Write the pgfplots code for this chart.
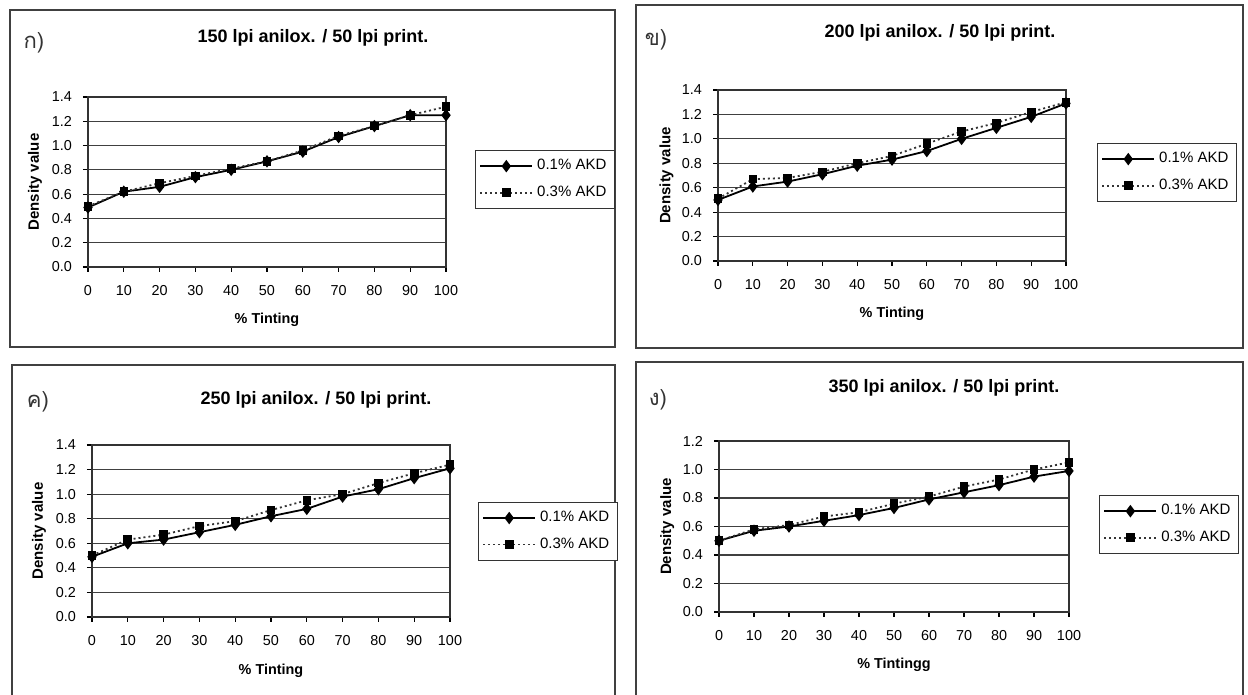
\documentclass[border=0pt]{standalone}
\usepackage{fontspec}
\setmainfont{Liberation Sans}
\newfontfamily\thaifont[Script=Thai]{Loma}
\usepackage{pgfplots}
\usepackage{pgfplotstable}
\pgfplotsset{compat=1.18}

% Density value vs % tinting, columns: tint, 0.1% AKD, 0.3% AKD
\pgfplotstableread{
x a b
0 0.49 0.50
10 0.62 0.62
20 0.66 0.69
30 0.74 0.75
40 0.80 0.81
50 0.87 0.87
60 0.95 0.96
70 1.07 1.08
80 1.16 1.16
90 1.25 1.25
100 1.25 1.32
}\tblA
\pgfplotstableread{
x a b
0 0.50 0.51
10 0.61 0.67
20 0.65 0.68
30 0.71 0.73
40 0.78 0.80
50 0.83 0.86
60 0.90 0.96
70 1.00 1.06
80 1.09 1.13
90 1.18 1.22
100 1.29 1.30
}\tblB
\pgfplotstableread{
x a b
0 0.49 0.50
10 0.60 0.63
20 0.63 0.67
30 0.69 0.74
40 0.75 0.78
50 0.82 0.87
60 0.88 0.95
70 0.98 1.00
80 1.04 1.09
90 1.13 1.17
100 1.21 1.24
}\tblC
\pgfplotstableread{
x a b
0 0.50 0.50
10 0.57 0.58
20 0.60 0.61
30 0.64 0.67
40 0.68 0.70
50 0.73 0.76
60 0.79 0.81
70 0.84 0.88
80 0.89 0.93
90 0.95 1.00
100 0.99 1.05
}\tblD

\pgfplotsset{
  densitypanel/.style={
    scale only axis,
    xmin=0, xmax=100, ymin=0,
    xtick={0,10,...,100},
    ymajorgrids,
    grid style={line width=0.6pt, draw=black!75},
    axis line style={line width=0.7pt, draw=black!80},
    tick style={draw=black, line width=0.6pt},
    tick align=outside, major tick length=2.5pt,
    tick pos=left,
    /pgf/number format/assume math mode=true,
    yticklabel style={/pgf/number format/fixed, /pgf/number format/fixed zerofill,
      /pgf/number format/precision=1, xshift=-2pt},
    xticklabel style={yshift=-3pt},
    tick label style={font=\fontsize{7.2}{8.5}\selectfont},
    ylabel={Density value},
    ylabel style={font=\bfseries\fontsize{7.5}{9}\selectfont, at={(axis description cs:-0.148,0.5)}, anchor=center},
    xlabel style={font=\bfseries\fontsize{7.2}{9}\selectfont, at={(axis description cs:0.5,-0.31)}, anchor=center},
    legend style={draw=black!80, font=\fontsize{7.5}{9}\selectfont,
      inner xsep=2pt, inner ysep=2.5pt, row sep=2.5pt, anchor=north west,
      cells={anchor=west}},
    legend image code/.code={%
      \draw[mark repeat=2, mark phase=2] plot coordinates {(0pt,0pt) (13pt,0pt) (26pt,0pt)};},
  },
  akdlow/.style={black, line width=0.9pt, mark=diamond*, mark size=2.4pt, mark options={solid, fill=black}},
  akdhigh/.style={black!80, line width=0.9pt, dash pattern=on 1pt off 1.5pt, mark=square*, mark size=1.7pt, mark options={solid, fill=black, draw=black}},
}

\begin{document}
\begin{tikzpicture}
\useasboundingbox (0pt,0pt) rectangle (624pt,347.5pt);
\clip (0pt,0pt) rectangle (624pt,347.5pt);
\fill[white] (0pt,0pt) rectangle (624pt,347.5pt);

% panel frames
\draw[line width=0.8pt, black!75] (5pt,342.5pt) rectangle (307.5pt,174pt);
\draw[line width=0.8pt, black!75] (318pt,345pt) rectangle (621.5pt,173.5pt);
\draw[line width=0.8pt, black!75] (6pt,-10pt) -- (6pt,165pt) -- (307.5pt,165pt) -- (307.5pt,-10pt);
\draw[line width=0.8pt, black!75] (318pt,-10pt) -- (318pt,166.5pt) -- (621.5pt,166.5pt) -- (621.5pt,-10pt);

% panel titles
\node[font=\bfseries\fontsize{9}{11}\selectfont] at (156.5pt,328.5pt) {150 lpi anilox. / 50 lpi print.};
\node[font=\bfseries\fontsize{9}{11}\selectfont] at (470pt,331pt) {200 lpi anilox. / 50 lpi print.};
\node[font=\bfseries\fontsize{9}{11}\selectfont] at (158pt,147.5pt) {250 lpi anilox. / 50 lpi print.};
\node[font=\bfseries\fontsize{9}{11}\selectfont] at (472pt,153.5pt) {350 lpi anilox. / 50 lpi print.};

% panel letters
\node[font=\thaifont\fontsize{11}{13}\selectfont, black!80] at (17pt,326pt) {ก)};
\node[font=\thaifont\fontsize{11}{13}\selectfont, black!80] at (328pt,327.5pt) {ข)};
\node[font=\thaifont\fontsize{11}{13}\selectfont, black!80] at (19pt,146.5pt) {ค)};
\node[font=\thaifont\fontsize{11}{13}\selectfont, black!80] at (329pt,147.5pt) {ง)};

% 150 lpi
\begin{axis}[densitypanel, at={(44pt,214pt)}, anchor=south west,
  width=179pt, height=85pt, ymax=1.4, ytick={0,0.2,...,1.4},
  xlabel={\% Tinting},
  legend style={at={(axis description cs:1.081,0.688)}}]
\addplot[akdlow] table[x=x, y=a] {\tblA};
\addplot[akdhigh] table[x=x, y=b] {\tblA};
\legend{0.1\% AKD, 0.3\% AKD}
\end{axis}

% 200 lpi
\begin{axis}[densitypanel, at={(359pt,217pt)}, anchor=south west,
  width=174pt, height=85.5pt, ymax=1.4, ytick={0,0.2,...,1.4},
  xlabel={\% Tinting},
  legend style={at={(axis description cs:1.089,0.69)}}]
\addplot[akdlow] table[x=x, y=a] {\tblB};
\addplot[akdhigh] table[x=x, y=b] {\tblB};
\legend{0.1\% AKD, 0.3\% AKD}
\end{axis}

% 250 lpi
\begin{axis}[densitypanel, at={(46pt,39pt)}, anchor=south west,
  width=179pt, height=86pt, ymax=1.4, ytick={0,0.2,...,1.4},
  xlabel={\% Tinting},
  legend style={at={(axis description cs:1.078,0.669)}}]
\addplot[akdlow] table[x=x, y=a] {\tblC};
\addplot[akdhigh] table[x=x, y=b] {\tblC};
\legend{0.1\% AKD, 0.3\% AKD}
\end{axis}

% 350 lpi
\begin{axis}[densitypanel, at={(359.5pt,41.5pt)}, anchor=south west,
  width=175pt, height=85.5pt, ymax=1.2, ytick={0,0.2,...,1.2},
  xlabel={\% Tintingg},
  legend style={at={(axis description cs:1.086,0.684)}}]
\addplot[akdlow] table[x=x, y=a] {\tblD};
\addplot[akdhigh] table[x=x, y=b] {\tblD};
\legend{0.1\% AKD, 0.3\% AKD}
\end{axis}
\end{tikzpicture}
\end{document}
